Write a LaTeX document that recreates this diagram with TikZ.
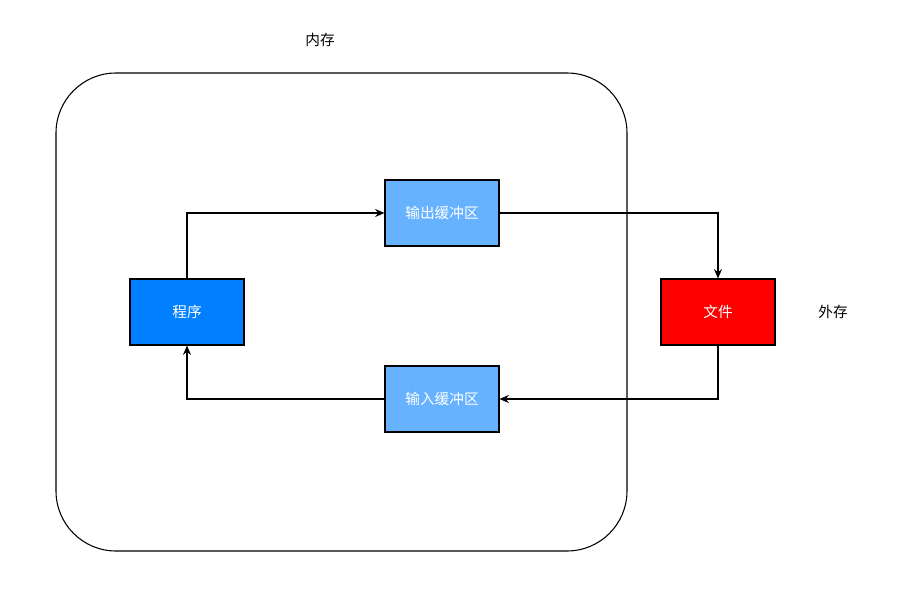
\documentclass[tikz,border=0pt]{standalone}
\usepackage{fontspec}
\setmainfont{Noto Sans CJK SC}
\usetikzlibrary{arrows.meta}
\definecolor{progblue}{HTML}{007FFF}
\definecolor{bufblue}{HTML}{66B2FF}
\begin{document}
\begin{tikzpicture}[x=0.75pt,y=-0.75pt,font=\fontsize{11}{13}\selectfont]
		\tikzstyle{box}=[draw,thick,minimum width=85.5pt,minimum height=49.5pt,inner sep=0pt,text=white]
		\tikzstyle{link}=[draw,thick,-{Stealth[length=7pt,width=6pt]}]
		\useasboundingbox (0,0) rectangle (901,593);
		
		\draw[thick,rounded corners=45pt] (56,73) rectangle (627,551);
		\node (mem) at (320,40) {内存};
		\node (ext) at (833,312) {外存};
		
		\node[box,fill=progblue] (prog) at (187,312) {程序};
		\node[box,fill=bufblue] (obuf) at (442,213) {输出缓冲区};
		\node[box,fill=bufblue] (ibuf) at (442,399) {输入缓冲区};
		\node[box,fill=red] (file) at (718,312) {文件};
		
		\draw[link] (prog.north) |- (obuf.west);
		\draw[link] (obuf.east) -| (file.north);
		\draw[link] (file.south) |- (ibuf.east);
		\draw[link] (ibuf.west) -| (prog.south);
\end{tikzpicture}
\end{document}
